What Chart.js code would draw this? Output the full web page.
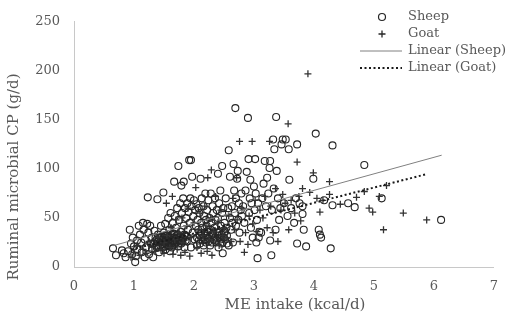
<!DOCTYPE html>
<html>
<head>
<meta charset="utf-8">
<script src="https://cdn.jsdelivr.net/npm/chart.js@4"></script>
<style>
  html, body { margin: 0; padding: 0; background: #fff; }
  #wrap { width: 510px; height: 321px; }
</style>
</head>
<body>
<div id="wrap"><canvas id="myChart" width="510" height="321"></canvas></div>
<script>
// ME intake (kcal/d), ruminal microbial CP (g/d)
const sheepData = [
  [0.65,19],[0.70,12],[0.80,17],[0.83,14],[0.86,10],[0.90,16],[0.93,38],[0.95,24],[0.97,13],[0.98,30],
  [1.00,21],[1.02,5],[1.03,11],[1.05,18],[1.05,27],[1.08,42],[1.10,33],[1.12,25],[1.13,15],[1.15,45],
  [1.16,38],[1.18,10],[1.18,28],[1.20,20],[1.22,44],[1.23,71],[1.24,35],[1.25,13],[1.27,42],[1.28,24],
  [1.30,30],[1.30,18],[1.32,10],[1.34,37],[1.35,26],[1.37,22],[1.38,28],[1.39,69],[1.40,33],[1.41,20],
  [1.42,15],[1.43,25],[1.44,30],[1.45,42],[1.46,27],[1.47,23],[1.48,20],[1.49,76],[1.50,30],[1.50,35],
  [1.51,25],[1.52,44],[1.53,18],[1.54,28],[1.55,22],[1.56,32],[1.57,50],[1.58,26],[1.59,38],[1.60,24],
  [1.60,16],[1.61,55],[1.62,30],[1.63,20],[1.64,27],[1.65,45],[1.66,34],[1.67,87],[1.67,23],[1.68,52],
  [1.69,29],[1.70,40],[1.71,25],[1.72,60],[1.73,33],[1.74,103],[1.74,21],[1.75,48],[1.76,28],[1.77,65],
  [1.78,36],[1.79,83],[1.79,24],[1.80,55],[1.81,30],[1.82,70],[1.83,87],[1.83,42],[1.84,20],[1.85,60],
  [1.86,32],[1.87,50],[1.88,26],[1.89,65],[1.90,38],[1.91,56],[1.92,109],[1.93,45],[1.94,70],[1.95,109],
  [1.95,20],[1.96,62],[1.97,92],[1.98,35],[1.99,52],[2.00,68],[2.01,28],[2.02,58],[2.03,42],[2.04,64],
  [2.05,22],[2.06,48],[2.07,38],[2.08,60],[2.09,55],[2.10,32],[2.11,90],[2.12,45],[2.13,70],[2.14,40],
  [2.15,27],[2.16,62],[2.17,52],[2.18,35],[2.19,75],[2.20,48],[2.20,25],[2.21,42],[2.22,58],[2.23,30],
  [2.24,68],[2.25,38],[2.26,50],[2.27,22],[2.28,75],[2.29,45],[2.30,33],[2.31,62],[2.32,55],[2.33,28],
  [2.34,40],[2.35,70],[2.36,48],[2.37,25],[2.38,58],[2.39,35],[2.40,95],[2.40,50],[2.41,20],[2.42,65],
  [2.43,30],[2.44,78],[2.45,42],[2.46,24],[2.47,103],[2.47,55],[2.48,14],[2.49,60],[2.50,35],[2.51,45],
  [2.52,28],[2.53,70],[2.54,40],[2.55,32],[2.57,60],[2.58,119],[2.58,22],[2.60,92],[2.60,50],[2.62,38],
  [2.63,62],[2.64,45],[2.65,25],[2.66,105],[2.67,78],[2.68,55],[2.69,162],[2.70,42],[2.70,70],[2.72,90],
  [2.73,98],[2.74,48],[2.75,65],[2.76,35],[2.78,58],[2.79,75],[2.80,52],[2.82,62],[2.84,45],[2.86,78],
  [2.88,97],[2.90,152],[2.91,110],[2.92,55],[2.93,70],[2.94,89],[2.95,40],[2.96,65],[2.98,30],[3.00,82],
  [3.01,58],[3.02,110],[3.03,75],[3.04,25],[3.05,48],[3.06,9],[3.07,65],[3.08,30],[3.09,36],[3.12,35],
  [3.14,70],[3.16,85],[3.18,108],[3.20,62],[3.22,91],[3.24,75],[3.26,101],[3.27,108],[3.27,27],[3.29,12],
  [3.30,58],[3.32,130],[3.33,80],[3.34,120],[3.36,38],[3.37,153],[3.38,98],[3.40,70],[3.42,48],[3.44,60],
  [3.46,125],[3.48,130],[3.50,65],[3.53,130],[3.56,52],[3.58,120],[3.59,89],[3.62,60],[3.67,45],[3.70,70],
  [3.72,125],[3.72,24],[3.76,65],[3.81,62],[3.81,54],[3.83,38],[3.87,21],[3.99,90],[4.03,136],[4.08,38],
  [4.10,33],[4.12,30],[4.17,68],[4.28,19],[4.31,124],[4.31,63],[4.57,65],[4.68,61],[4.84,104],[5.13,70],
  [6.12,48],
  // dense band
  [1.33,24],[1.36,30],[1.38,20],[1.40,26],[1.42,29],[1.44,22],[1.46,31],[1.48,26],[1.49,28],[1.51,21],
  [1.52,32],[1.53,26],[1.55,29],[1.56,23],[1.57,27],[1.58,31],[1.59,21],[1.61,26],[1.62,24],[1.63,33],
  [1.64,22],[1.66,26],[1.67,30],[1.68,24],[1.70,28],[1.71,32],[1.72,26],[1.74,30],[1.75,24],[1.77,27],
  [1.78,31],[1.80,26],[1.82,29],[1.84,33],[1.86,27],[1.88,31],[2.05,30],[2.08,27],[2.10,24],[2.12,35],
  [2.14,30],[2.16,22],[2.18,28],[2.20,32],[2.22,36],[2.24,26],[2.26,31],[2.28,38],[2.30,25],[2.32,34],
  [2.35,30],[2.38,27],[2.40,32],[2.42,36],[2.44,28],[2.46,33],[2.48,25],[2.50,30],[2.52,36],[2.55,24]
];
const goatData = [
  [0.95,10],[1.00,15],[1.05,22],[1.10,12],[1.15,18],[1.20,14],[1.25,26],[1.30,20],[1.35,16],[1.40,30],
  [1.45,18],[1.50,25],[1.50,14],[1.54,65],[1.55,32],[1.60,20],[1.62,40],[1.64,72],[1.65,13],[1.68,28],
  [1.70,48],[1.72,18],[1.75,35],[1.78,12],[1.80,50],[1.82,25],[1.85,15],[1.88,42],[1.90,60],[1.93,11],
  [1.95,30],[2.00,45],[2.03,81],[2.05,20],[2.08,38],[2.10,55],[2.12,14],[2.15,32],[2.18,62],[2.20,42],
  [2.22,16],[2.23,91],[2.25,28],[2.28,50],[2.29,99],[2.30,12],[2.33,36],[2.36,72],[2.40,45],[2.42,22],
  [2.45,58],[2.48,32],[2.50,40],[2.55,30],[2.58,52],[2.62,26],[2.65,70],[2.68,38],[2.71,91],[2.72,48],
  [2.76,128],[2.77,26],[2.80,60],[2.84,15],[2.86,35],[2.90,23],[2.92,52],[2.97,128],[2.98,44],[3.02,68],
  [3.05,36],[3.10,58],[3.15,50],[3.18,72],[3.22,40],[3.26,128],[3.28,62],[3.32,35],[3.36,80],[3.40,26],
  [3.45,58],[3.48,74],[3.52,65],[3.57,146],[3.58,38],[3.62,68],[3.68,55],[3.72,107],[3.75,72],[3.78,47],
  [3.81,80],[3.90,197],[3.93,76],[3.99,96],[4.05,70],[4.10,56],[4.15,68],[4.26,87],[4.26,74],[4.44,64],
  [4.71,71],[4.84,77],[4.92,60],[4.98,56],[5.09,72],[5.16,38],[5.21,83],[5.49,55],[5.88,48]
];
// trend line end points
const sheepTrend = [[0.65,21.7],[6.13,114]];
const goatTrend = [[0.95,17.8],[5.88,94.7]];

const legendLabels = ['Sheep', 'Goat', 'Linear (Sheep)', 'Linear (Goat)'];
const xTitle = 'ME intake (kcal/d)';
const yTitle = 'Ruminal microbial CP (g/d)';

const toXY = arr => arr.map(p => ({ x: p[0], y: p[1] }));
const textColor = '#595959';
const fontFam = '"DejaVu Serif", serif';

const extras = {
  id: 'extras',
  afterDraw(chart) {
    const c = chart.ctx;
    c.save();
    c.fillStyle = textColor;
    c.textBaseline = 'middle';
    c.font = '15px ' + fontFam;
    c.textAlign = 'center';
    c.fillText(xTitle, 295, 305);
    c.translate(14, 177);
    c.rotate(-Math.PI / 2);
    c.fillText(yTitle, 0, 0);
    c.restore();

    // legend
    c.save();
    c.font = '13px ' + fontFam;
    c.fillStyle = textColor;
    c.textBaseline = 'middle';
    c.textAlign = 'left';
    const rows = [17, 34, 51, 68];
    c.strokeStyle = '#262626';
    c.lineWidth = 1.2;
    c.beginPath();
    c.arc(382, rows[0], 3.5, 0, Math.PI * 2);
    c.stroke();
    c.lineWidth = 1.3;
    c.beginPath();
    c.moveTo(378.5, rows[1]); c.lineTo(385.5, rows[1]);
    c.moveTo(382, rows[1] - 3.5); c.lineTo(382, rows[1] + 3.5);
    c.stroke();
    c.strokeStyle = '#808080';
    c.lineWidth = 1;
    c.beginPath();
    c.moveTo(360, rows[2]); c.lineTo(402, rows[2]);
    c.stroke();
    c.strokeStyle = '#1a1a1a';
    c.lineWidth = 2;
    c.setLineDash([2, 2.5]);
    c.beginPath();
    c.moveTo(360, rows[3]); c.lineTo(402, rows[3]);
    c.stroke();
    c.setLineDash([]);
    legendLabels.forEach((t, i) => c.fillText(t, 408, rows[i]));
    c.restore();
  }
};

const ctx = document.getElementById('myChart').getContext('2d');
const myChart = new Chart(ctx, {
  type: 'scatter',
  data: {
    datasets: [
      {
        label: legendLabels[0],
        data: toXY(sheepData),
        pointStyle: 'circle',
        pointRadius: 3.5,
        pointBorderWidth: 1.1,
        borderColor: '#262626',
        backgroundColor: 'rgba(0,0,0,0)',
        order: 2,
      },
      {
        label: legendLabels[1],
        data: toXY(goatData),
        pointStyle: 'cross',
        pointRadius: 3.5,
        pointBorderWidth: 1.3,
        borderColor: '#333333',
        backgroundColor: '#333333',
        order: 1,
      },
      {
        label: legendLabels[2],
        type: 'line',
        data: toXY(sheepTrend),
        borderColor: '#808080',
        borderWidth: 1,
        pointRadius: 0,
        fill: false,
        order: 0,
      },
      {
        label: legendLabels[3],
        type: 'line',
        data: toXY(goatTrend),
        borderColor: '#1a1a1a',
        borderWidth: 2,
        borderDash: [2, 2.5],
        pointRadius: 0,
        fill: false,
        order: 0,
      },
    ],
  },
  options: {
    responsive: false,
    animation: false,
    layout: { padding: { left: 0, top: 8, right: 16, bottom: 0 } },
    plugins: {
      legend: { display: false },
      tooltip: { enabled: false },
    },
    scales: {
      x: {
        type: 'linear',
        min: 0,
        max: 7,
        ticks: { stepSize: 1, color: textColor, padding: 12, font: { family: fontFam, size: 13 } },
        grid: { display: false, drawTicks: false },
        border: { color: '#c8c8c8', width: 1 },
        afterFit(scale) { scale.height = 54; },
      },
      y: {
        min: 0,
        max: 250,
        ticks: { stepSize: 50, color: textColor, padding: 14, font: { family: fontFam, size: 13 } },
        grid: { display: false, drawTicks: false },
        border: { color: '#c8c8c8', width: 1 },
        afterFit(scale) { scale.width = 74; },
      },
    },
  },
  plugins: [extras],
});
</script>
</body>
</html>
